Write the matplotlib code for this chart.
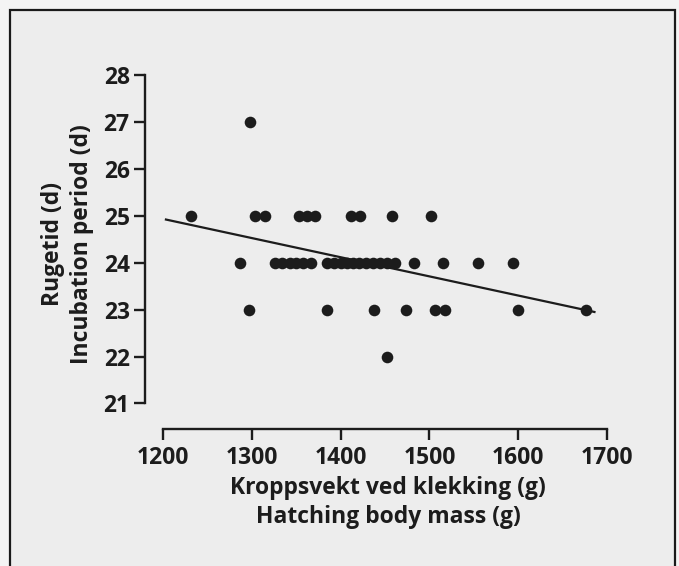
import matplotlib
matplotlib.use("Agg")
import matplotlib.pyplot as plt
from matplotlib.patches import Rectangle

plt.rcParams['font.family'] = ['Open Sans', 'DejaVu Sans']
plt.rcParams['font.weight'] = 'bold'

# hatching body mass (g) per incubation period (d)
mass_27 = [1298]
mass_25 = [1231, 1303, 1315, 1353, 1362, 1371, 1412, 1422, 1458, 1502]
mass_24 = [1287, 1326, 1334, 1343, 1350, 1358, 1366, 1384, 1392, 1400,
           1407, 1414, 1421, 1428, 1436, 1444, 1452, 1461, 1483, 1515,
           1555, 1594]
mass_23 = [1297, 1385, 1437, 1474, 1506, 1517, 1600, 1677]
mass_22 = [1452]

mass = mass_27 + mass_25 + mass_24 + mass_23 + mass_22
days = ([27] * len(mass_27) + [25] * len(mass_25) + [24] * len(mass_24)
        + [23] * len(mass_23) + [22] * len(mass_22))

# regression line end points
fit_x = [1203, 1686]
fit_y = [24.92, 22.95]

xticks = [1200, 1300, 1400, 1500, 1600, 1700]
yticks = [21, 22, 23, 24, 25, 26, 27, 28]

W, H = 679, 566
fig = plt.figure(figsize=(W / 100, H / 100), dpi=100, facecolor='#f4f4f4')

# scanned page frame, drawn in a background axes
bg = fig.add_axes([0, 0, 1, 1], zorder=-1)
bg.set_axis_off()
bg.set_xlim(0, W)
bg.set_ylim(H, 0)
bg.add_patch(Rectangle((10, 10), 665, H + 20, facecolor='#ededed',
                       edgecolor='#1a1a1a', lw=1.6))

ax = fig.add_axes([145 / W, 1 - 429.3 / H, 462.3 / W, 354.3 / H])
ax.patch.set_alpha(0)

ink = '#1c1c1c'
ax.plot(fit_x, fit_y, color=ink, lw=1.6, zorder=2)
ax.scatter(mass, days, s=70, color=ink, zorder=3, linewidths=0)

ax.set_xlim(1179.4, 1700.5)
ax.set_ylim(20.45, 28.0)

for s in ['top', 'right']:
    ax.spines[s].set_visible(False)
ax.spines['left'].set_bounds(21, 28)
ax.spines['bottom'].set_bounds(1200, 1700)
for s in ['left', 'bottom']:
    ax.spines[s].set_linewidth(1.7)
    ax.spines[s].set_color(ink)

ax.set_xticks(xticks)
ax.set_yticks(yticks)
ax.tick_params(direction='out', length=8, width=1.7, color=ink,
               labelsize=16.5, labelcolor=ink)
ax.tick_params(axis='y', pad=3)
ax.tick_params(axis='x', pad=4)

ax.set_xlabel('Kroppsvekt ved klekking (g)\nHatching body mass (g)',
              fontsize=16.5, fontweight='bold', color=ink,
              linespacing=1.27, va='center')
ax.xaxis.set_label_coords(0.526, -0.207)
ax.set_ylabel('Rugetid (d)\nIncubation period (d)',
              fontsize=16.5, fontweight='bold', color=ink,
              linespacing=1.27, va='center')
ax.yaxis.set_label_coords(-0.168, 0.523)

fig.savefig('out.png', dpi=100, facecolor=fig.get_facecolor())
